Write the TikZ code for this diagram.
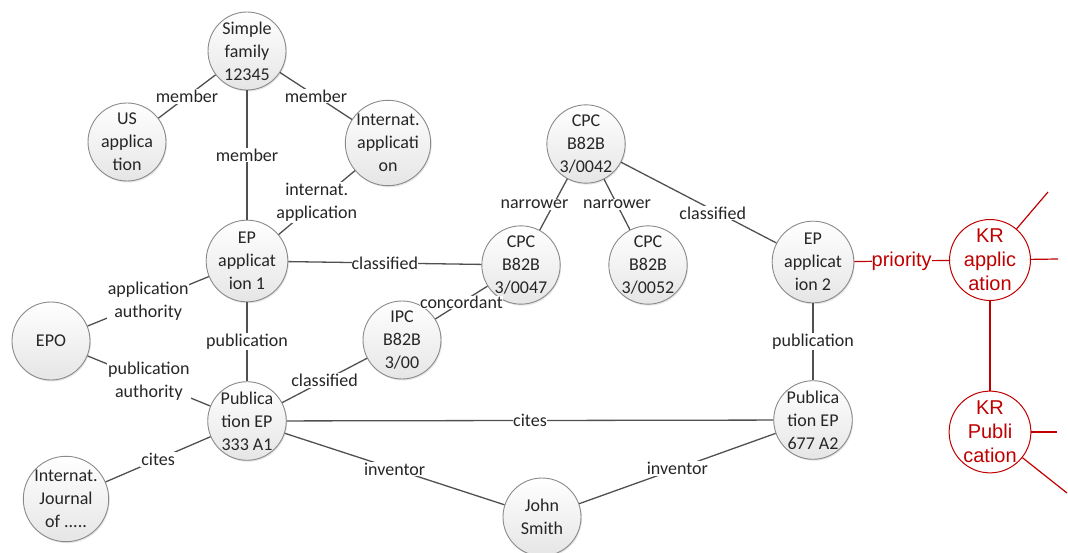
\documentclass[tikz,border=0pt]{standalone}
\usepackage{fontspec}
\setmainfont{Carlito}
\newfontfamily\redfont{Liberation Sans}
\usetikzlibrary{shadows}
\definecolor{krred}{HTML}{C00000}
\definecolor{edgegray}{HTML}{505050}
\definecolor{circgray}{HTML}{8A8A8A}
\begin{document}
\begin{tikzpicture}[x=1pt,y=-1pt,
  ent/.style={circle, draw=circgray, line width=0.9pt, minimum size=78pt, inner sep=0pt, align=center,
    top color=white, bottom color=gray!20,
    drop shadow={opacity=0.2, shadow xshift=1pt, shadow yshift=-1.5pt},
    font=\fontsize{18}{23}\selectfont, text=black!85},
  kr/.style={circle, draw=krred, line width=1pt, minimum size=77pt, inner sep=0pt, align=center,
    fill=white, font=\redfont\fontsize{20}{24}\selectfont, text=krred},
  edge/.style={draw=edgegray, line width=1.3pt},
  rededge/.style={draw=krred, line width=1.2pt},
  lbl/.style={fill=white, inner sep=1pt, font=\fontsize{18}{23}\selectfont, text=black!85, align=center},
  rlbl/.style={fill=white, inner sep=1pt, font=\redfont\fontsize{20}{24}\selectfont, text=krred},
]
\useasboundingbox (0,0) rectangle (1068,553);
% nodes
\node[ent] (sf)  at (247,51)  {Simple\\family\\12345};
\node[ent] (us)  at (127,142) {US\\applica\\tion};
\node[ent] (ia)  at (388,143) {Internat.\\applicati\\on};
\node[ent] (ep1) at (247,261) {EP\\applicat\\ion 1};
\node[ent] (epo) at (51,341)  {EPO};
\node[ent] (p1)  at (247,421) {Publica\\tion EP\\333 A1};
\node[ent] (ij)  at (66,499)  {Internat.\\Journal\\of .....};
\node[ent] (js)  at (542,517) {John\\Smith};
\node[ent] (c42) at (586,144) {CPC\\B82B\\3/0042};
\node[ent] (c47) at (521,265) {CPC\\B82B\\3/0047};
\node[ent] (c52) at (648,265) {CPC\\B82B\\3/0052};
\node[ent] (ipc) at (402,340) {IPC\\B82B\\3/00};
\node[ent] (ep2) at (813,262) {EP\\applicat\\ion 2};
\node[ent] (p2)  at (813,420) {Publica\\tion EP\\677 A2};
\node[kr]  (kra) at (990,260) {KR\\applic\\ation};
\node[kr]  (krp) at (990,432) {KR\\Publi\\cation};
% free ends
\coordinate (k1) at (1048,192);
\coordinate (k2) at (1058,259);
\coordinate (k3) at (1057,432);
\coordinate (k4) at (1067,493);
% edges
\draw[edge] (sf) -- node[lbl]{member} (us);
\draw[edge] (sf) -- node[lbl]{member} (ia);
\draw[edge] (sf) -- node[lbl]{member} (ep1);
\draw[edge] (ia) -- node[lbl]{internat.\\application} (ep1);
\draw[edge] (ep1) -- node[lbl, inner sep=0pt]{classified} (c47);
\draw[edge] (ep1) -- node[lbl]{application\\authority} (epo);
\draw[edge] (epo) -- node[lbl]{publication\\authority} (p1);
\draw[edge] (ep1) -- node[lbl]{publication} (p1);
\draw[edge] (ipc) -- node[lbl]{classified} (p1);
\draw[edge] (ipc) -- node[lbl, inner sep=0pt]{concordant} (c47);
\draw[edge] (c42) -- node[lbl, xshift=-19pt]{narrower} (c47);
\draw[edge] (c42) -- node[lbl]{narrower} (c52);
\draw[edge] (c42) -- node[lbl, pos=0.59, yshift=-3pt]{classified} (ep2);
\draw[edge] (ep2) -- node[lbl]{publication} (p2);
\draw[edge] (p1) -- node[lbl, inner sep=0pt]{cites} (p2);
\draw[edge] (p1) -- node[lbl]{cites} (ij);
\draw[edge] (p1) -- node[lbl]{inventor} (js);
\draw[edge] (js) -- node[lbl]{inventor} (p2);
\draw[rededge] (ep2) -- node[rlbl, inner sep=0pt]{priority} (kra);
\draw[rededge] (kra) -- (krp);
\draw[rededge] (kra) -- (k1);
\draw[rededge] (kra) -- (k2);
\draw[rededge] (krp) -- (k3);
\draw[rededge] (krp) -- (k4);
\end{tikzpicture}
\end{document}
